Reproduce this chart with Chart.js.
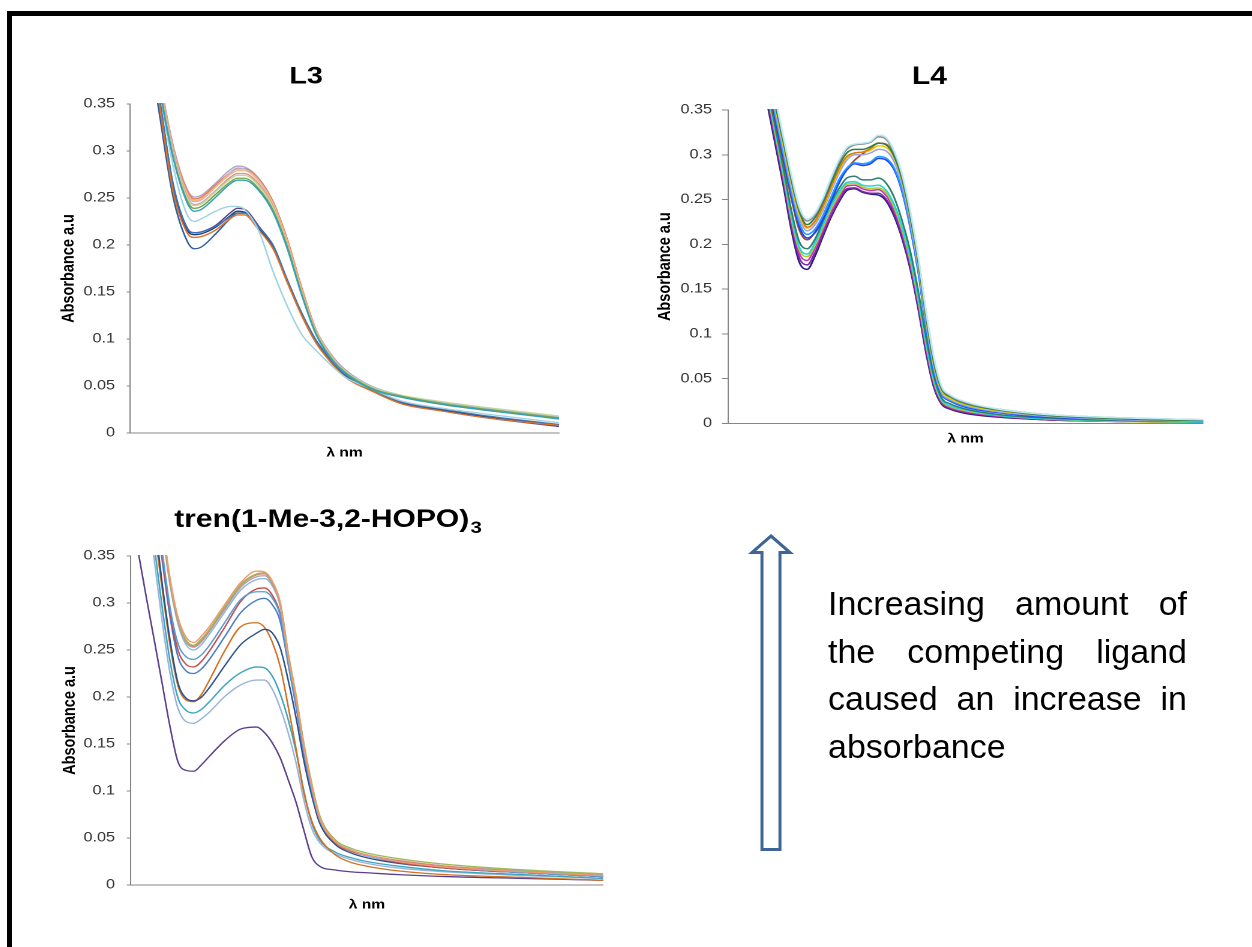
<!DOCTYPE html>
<html>
<head>
<meta charset="utf-8">
<script src="https://cdn.jsdelivr.net/npm/chart.js@4.4.1/dist/chart.umd.min.js"></script>
<style>
  body { margin: 0; width: 1252px; height: 947px; background: #fff; position: relative; overflow: hidden; }
  .edge { position: absolute; background: #000; z-index: 5; }
  /* the three plots are drawn narrow and stretched sideways */
  .panel { position: absolute; transform: scaleX(1.2); transform-origin: 0 0; }
  .note { position: absolute; left: 828px; top: 580px; width: 359px; color: #000;
          font: 34px/47.6px "Liberation Sans", Arial, sans-serif; }
  .note div { white-space: nowrap; text-align: justify; text-align-last: justify; }
  .note div.last { text-align-last: left; }
  svg { position: absolute; left: 0; top: 0; }
</style>
</head>
<body>
<div class="edge" style="left:7px; top:11px; width:1245px; height:5px;"></div>
<div class="edge" style="left:7px; top:11px; width:5px; height:936px;"></div>

<div class="panel" style="left:10px; top:40px; width:475px; height:440px;"><canvas id="l3Chart"></canvas></div>
<div class="panel" style="left:610px; top:40px; width:510px; height:430px;"><canvas id="l4Chart"></canvas></div>
<div class="panel" style="left:10px; top:490px; width:510px; height:450px;"><canvas id="trenChart"></canvas></div>

<svg width="1252" height="947">
  <polygon points="771,536 790,552.5 780,552.5 780,849.5 762,849.5 762,552.5 752,552.5"
           fill="#fff" stroke="#3e6597" stroke-width="3" stroke-linejoin="miter"/>
</svg>

<div class="note">
  <div>Increasing amount of</div>
  <div>the competing ligand</div>
  <div>caused an increase in</div>
  <div class="last">absorbance</div>
</div>

<script>
// absorbance axis, shared by all three panels
const absTicks = [0, 0.05, 0.1, 0.15, 0.2, 0.25, 0.3, 0.35];

// ---- L3 ----
const l3Nm = [260, 270, 280, 290, 295, 300, 310, 320, 325, 330, 340, 350, 360, 370, 380, 390, 400, 420, 440, 470, 500, 550];
const l3Lavender = [0.50, 0.387, 0.307, 0.259, 0.251, 0.253, 0.266, 0.280, 0.284, 0.283, 0.271, 0.246, 0.205, 0.154, 0.110, 0.085, 0.068, 0.049, 0.040, 0.032, 0.026, 0.017];
const l3Coral = [0.50, 0.386, 0.305, 0.257, 0.249, 0.251, 0.264, 0.277, 0.281, 0.281, 0.270, 0.246, 0.206, 0.155, 0.110, 0.084, 0.067, 0.048, 0.039, 0.031, 0.025, 0.016];
const l3Peach = [0.495, 0.383, 0.303, 0.255, 0.247, 0.249, 0.262, 0.275, 0.279, 0.279, 0.268, 0.244, 0.204, 0.153, 0.109, 0.083, 0.066, 0.048, 0.039, 0.031, 0.025, 0.016];
const l3Sky = [0.50, 0.385, 0.304, 0.254, 0.246, 0.248, 0.262, 0.277, 0.282, 0.281, 0.269, 0.244, 0.203, 0.152, 0.109, 0.084, 0.067, 0.049, 0.040, 0.032, 0.026, 0.017];
const l3Rose = [0.49, 0.38, 0.30, 0.251, 0.243, 0.245, 0.258, 0.272, 0.276, 0.276, 0.265, 0.241, 0.201, 0.151, 0.107, 0.082, 0.066, 0.047, 0.038, 0.030, 0.024, 0.015];
const l3Lime = [0.49, 0.378, 0.298, 0.250, 0.242, 0.244, 0.257, 0.270, 0.274, 0.274, 0.263, 0.240, 0.200, 0.150, 0.107, 0.082, 0.066, 0.048, 0.040, 0.033, 0.027, 0.018];
const l3Green = [0.485, 0.375, 0.295, 0.247, 0.239, 0.241, 0.254, 0.267, 0.271, 0.271, 0.260, 0.237, 0.198, 0.148, 0.106, 0.081, 0.065, 0.047, 0.039, 0.031, 0.025, 0.016];
const l3Teal = [0.485, 0.374, 0.294, 0.245, 0.236, 0.238, 0.251, 0.265, 0.269, 0.269, 0.258, 0.235, 0.196, 0.147, 0.105, 0.080, 0.064, 0.046, 0.038, 0.030, 0.024, 0.015];
const l3Ice = [0.47, 0.372, 0.285, 0.232, 0.225, 0.228, 0.236, 0.241, 0.241, 0.238, 0.215, 0.172, 0.135, 0.105, 0.088, 0.073, 0.060, 0.046, 0.034, 0.026, 0.020, 0.011];
const l3Navy = [0.45, 0.36, 0.262, 0.216, 0.211, 0.212, 0.219, 0.231, 0.236, 0.235, 0.218, 0.198, 0.161, 0.126, 0.097, 0.077, 0.061, 0.045, 0.032, 0.024, 0.017, 0.008];
const l3Purple = [0.455, 0.362, 0.265, 0.218, 0.213, 0.214, 0.221, 0.234, 0.239, 0.238, 0.220, 0.199, 0.162, 0.127, 0.098, 0.077, 0.061, 0.045, 0.032, 0.023, 0.016, 0.007];
const l3Orange = [0.445, 0.355, 0.258, 0.213, 0.208, 0.209, 0.216, 0.228, 0.232, 0.232, 0.216, 0.196, 0.160, 0.125, 0.096, 0.076, 0.060, 0.044, 0.031, 0.023, 0.016, 0.008];
const l3Blue = [0.452, 0.362, 0.266, 0.218, 0.213, 0.214, 0.220, 0.230, 0.234, 0.234, 0.219, 0.200, 0.163, 0.128, 0.099, 0.079, 0.063, 0.046, 0.033, 0.025, 0.018, 0.009];
const l3Cobalt = [0.44, 0.345, 0.252, 0.204, 0.196, 0.198, 0.212, 0.228, 0.234, 0.234, 0.218, 0.199, 0.162, 0.127, 0.098, 0.078, 0.062, 0.045, 0.032, 0.024, 0.017, 0.008];

// ---- L4 ----
const l4Nm = [260, 270, 275, 280, 285, 290, 295, 300, 305, 310, 315, 320, 325, 330, 335, 340, 345, 350, 355, 360, 365, 370, 375, 380, 385, 390, 400, 420, 450, 500, 550];
const l4Navy = [0.505, 0.40, 0.355, 0.31, 0.265, 0.216, 0.180, 0.172, 0.187, 0.209, 0.230, 0.247, 0.260, 0.262, 0.258, 0.256, 0.255, 0.248, 0.231, 0.206, 0.173, 0.129, 0.079, 0.040, 0.021, 0.016, 0.011, 0.007, 0.004, 0.002, 0.001];
const l4Purple = [0.51, 0.405, 0.36, 0.315, 0.27, 0.221, 0.185, 0.177, 0.191, 0.212, 0.232, 0.249, 0.262, 0.263, 0.259, 0.257, 0.257, 0.250, 0.234, 0.209, 0.176, 0.132, 0.082, 0.042, 0.022, 0.017, 0.012, 0.008, 0.004, 0.002, 0.001];
const l4Magenta = [0.515, 0.41, 0.365, 0.32, 0.274, 0.226, 0.190, 0.182, 0.196, 0.216, 0.236, 0.252, 0.265, 0.266, 0.262, 0.260, 0.261, 0.254, 0.238, 0.213, 0.180, 0.136, 0.086, 0.045, 0.024, 0.018, 0.013, 0.008, 0.005, 0.002, 0.001];
const l4Chartreuse = [0.518, 0.412, 0.368, 0.322, 0.277, 0.229, 0.194, 0.186, 0.199, 0.219, 0.239, 0.255, 0.267, 0.268, 0.264, 0.262, 0.263, 0.257, 0.241, 0.216, 0.183, 0.139, 0.089, 0.047, 0.025, 0.019, 0.014, 0.009, 0.005, 0.002, 0.001];
const l4Cyan = [0.52, 0.415, 0.37, 0.325, 0.28, 0.232, 0.197, 0.189, 0.202, 0.222, 0.242, 0.258, 0.269, 0.270, 0.266, 0.265, 0.266, 0.260, 0.244, 0.219, 0.186, 0.142, 0.091, 0.049, 0.026, 0.020, 0.015, 0.009, 0.005, 0.003, 0.001];
const l4Pine = [0.525, 0.42, 0.375, 0.33, 0.285, 0.238, 0.203, 0.195, 0.206, 0.226, 0.246, 0.262, 0.274, 0.276, 0.272, 0.272, 0.274, 0.268, 0.252, 0.226, 0.193, 0.149, 0.097, 0.053, 0.028, 0.022, 0.016, 0.010, 0.006, 0.003, 0.002];
const l4Brown = [0.53, 0.425, 0.38, 0.335, 0.293, 0.251, 0.216, 0.205, 0.214, 0.232, 0.252, 0.270, 0.284, 0.294, 0.301, 0.307, 0.313, 0.311, 0.298, 0.272, 0.232, 0.182, 0.120, 0.067, 0.037, 0.029, 0.021, 0.015, 0.009, 0.005, 0.003];
const l4Blue = [0.535, 0.428, 0.384, 0.339, 0.297, 0.255, 0.220, 0.207, 0.213, 0.228, 0.248, 0.268, 0.283, 0.290, 0.288, 0.290, 0.296, 0.294, 0.283, 0.258, 0.219, 0.170, 0.108, 0.058, 0.032, 0.025, 0.018, 0.012, 0.007, 0.004, 0.002];
const l4Azure = [0.54, 0.432, 0.388, 0.343, 0.301, 0.259, 0.224, 0.211, 0.217, 0.232, 0.252, 0.272, 0.285, 0.291, 0.290, 0.292, 0.298, 0.296, 0.285, 0.260, 0.221, 0.172, 0.110, 0.060, 0.033, 0.026, 0.019, 0.013, 0.008, 0.004, 0.002];
const l4Lavender = [0.545, 0.437, 0.393, 0.348, 0.306, 0.264, 0.229, 0.215, 0.222, 0.238, 0.259, 0.279, 0.294, 0.300, 0.300, 0.302, 0.306, 0.304, 0.292, 0.266, 0.226, 0.176, 0.114, 0.063, 0.034, 0.027, 0.020, 0.013, 0.008, 0.004, 0.002];
const l4Yellow = [0.55, 0.44, 0.397, 0.352, 0.31, 0.268, 0.233, 0.218, 0.225, 0.241, 0.262, 0.282, 0.297, 0.302, 0.303, 0.305, 0.310, 0.308, 0.296, 0.270, 0.230, 0.180, 0.118, 0.066, 0.036, 0.028, 0.021, 0.014, 0.009, 0.005, 0.003];
const l4Orange = [0.555, 0.448, 0.403, 0.358, 0.316, 0.274, 0.238, 0.219, 0.226, 0.243, 0.264, 0.284, 0.298, 0.302, 0.303, 0.307, 0.313, 0.312, 0.300, 0.275, 0.236, 0.186, 0.125, 0.072, 0.040, 0.031, 0.023, 0.016, 0.010, 0.005, 0.003];
const l4Green = [0.55, 0.445, 0.40, 0.355, 0.314, 0.272, 0.237, 0.222, 0.230, 0.247, 0.268, 0.288, 0.302, 0.306, 0.306, 0.309, 0.313, 0.311, 0.298, 0.272, 0.232, 0.182, 0.120, 0.068, 0.038, 0.030, 0.022, 0.015, 0.009, 0.005, 0.003];
const l4Grey = [0.56, 0.45, 0.405, 0.36, 0.318, 0.276, 0.240, 0.226, 0.233, 0.250, 0.272, 0.292, 0.306, 0.311, 0.312, 0.314, 0.320, 0.317, 0.302, 0.276, 0.236, 0.186, 0.124, 0.072, 0.040, 0.031, 0.023, 0.016, 0.010, 0.006, 0.004];
const l4Frost = [0.56, 0.452, 0.407, 0.362, 0.32, 0.278, 0.242, 0.228, 0.235, 0.252, 0.274, 0.294, 0.308, 0.312, 0.313, 0.315, 0.322, 0.319, 0.304, 0.278, 0.238, 0.188, 0.126, 0.074, 0.041, 0.032, 0.024, 0.016, 0.010, 0.006, 0.004];

// ---- tren(1-Me-3,2-HOPO)3 ----
const trenNm = [250, 255, 260, 265, 270, 275, 280, 285, 290, 295, 300, 310, 320, 330, 335, 340, 345, 350, 355, 360, 365, 370, 380, 390, 400, 420, 450, 500, 550];
const trenPurple = [0.40, 0.352, 0.305, 0.260, 0.214, 0.168, 0.131, 0.122, 0.121, 0.128, 0.137, 0.154, 0.166, 0.168, 0.162, 0.151, 0.135, 0.112, 0.088, 0.058, 0.030, 0.020, 0.016, 0.014, 0.013, 0.011, 0.009, 0.007, 0.005];
const trenMist = [0.60, 0.50, 0.41, 0.345, 0.28, 0.225, 0.188, 0.174, 0.172, 0.177, 0.184, 0.201, 0.213, 0.218, 0.218, 0.208, 0.188, 0.162, 0.130, 0.090, 0.060, 0.045, 0.033, 0.027, 0.023, 0.018, 0.014, 0.010, 0.007];
const trenTeal = [0.62, 0.52, 0.43, 0.36, 0.295, 0.238, 0.199, 0.186, 0.183, 0.187, 0.195, 0.213, 0.226, 0.232, 0.231, 0.222, 0.203, 0.176, 0.142, 0.100, 0.066, 0.048, 0.035, 0.029, 0.025, 0.020, 0.015, 0.011, 0.007];
const trenOrange = [0.66, 0.56, 0.46, 0.38, 0.315, 0.255, 0.212, 0.197, 0.195, 0.203, 0.218, 0.250, 0.275, 0.279, 0.274, 0.258, 0.232, 0.190, 0.145, 0.098, 0.068, 0.050, 0.032, 0.024, 0.020, 0.015, 0.011, 0.008, 0.005];
const trenNavy = [0.67, 0.57, 0.47, 0.39, 0.32, 0.26, 0.215, 0.199, 0.196, 0.200, 0.210, 0.234, 0.256, 0.268, 0.272, 0.268, 0.252, 0.218, 0.178, 0.132, 0.095, 0.066, 0.043, 0.034, 0.029, 0.023, 0.018, 0.013, 0.009];
const trenBlue = [0.69, 0.59, 0.49, 0.41, 0.345, 0.285, 0.243, 0.228, 0.225, 0.230, 0.240, 0.265, 0.290, 0.303, 0.305, 0.298, 0.280, 0.235, 0.190, 0.140, 0.100, 0.069, 0.045, 0.036, 0.031, 0.024, 0.018, 0.013, 0.009];
const trenRed = [0.69, 0.59, 0.495, 0.415, 0.35, 0.29, 0.250, 0.235, 0.232, 0.238, 0.249, 0.275, 0.302, 0.315, 0.316, 0.308, 0.288, 0.240, 0.195, 0.144, 0.103, 0.070, 0.045, 0.036, 0.031, 0.024, 0.018, 0.013, 0.009];
const trenSky = [0.70, 0.595, 0.50, 0.42, 0.355, 0.295, 0.257, 0.243, 0.240, 0.245, 0.255, 0.280, 0.304, 0.312, 0.312, 0.305, 0.286, 0.238, 0.194, 0.143, 0.102, 0.070, 0.046, 0.037, 0.031, 0.025, 0.019, 0.013, 0.009];
const trenPale = [0.705, 0.59, 0.51, 0.44, 0.377, 0.319, 0.278, 0.256, 0.250, 0.256, 0.267, 0.291, 0.314, 0.325, 0.326, 0.318, 0.296, 0.243, 0.198, 0.146, 0.104, 0.071, 0.046, 0.037, 0.031, 0.025, 0.019, 0.014, 0.010];
const trenGrey = [0.71, 0.595, 0.515, 0.445, 0.38, 0.322, 0.281, 0.259, 0.253, 0.259, 0.270, 0.294, 0.317, 0.328, 0.329, 0.320, 0.298, 0.244, 0.199, 0.147, 0.105, 0.071, 0.046, 0.037, 0.032, 0.026, 0.020, 0.015, 0.011];
const trenRose = [0.712, 0.597, 0.517, 0.447, 0.382, 0.323, 0.282, 0.260, 0.254, 0.260, 0.271, 0.296, 0.319, 0.330, 0.331, 0.321, 0.299, 0.246, 0.200, 0.149, 0.106, 0.072, 0.046, 0.037, 0.032, 0.026, 0.020, 0.014, 0.010];
const trenGreen = [0.715, 0.598, 0.518, 0.448, 0.383, 0.324, 0.283, 0.261, 0.255, 0.262, 0.272, 0.297, 0.320, 0.331, 0.332, 0.322, 0.300, 0.247, 0.202, 0.150, 0.108, 0.074, 0.048, 0.039, 0.034, 0.028, 0.022, 0.016, 0.012];
const trenSalmon = [0.72, 0.60, 0.52, 0.45, 0.385, 0.326, 0.285, 0.264, 0.258, 0.265, 0.275, 0.299, 0.322, 0.334, 0.333, 0.323, 0.300, 0.245, 0.200, 0.148, 0.106, 0.072, 0.046, 0.037, 0.032, 0.025, 0.019, 0.014, 0.010];

const FONT = '"Liberation Sans", Arial, sans-serif';
Chart.defaults.font.family = FONT;

// panel heading, with an optional subscript after the main text
const panelTitle = {
  id: 'panelTitle',
  afterDraw(chart, args, opts) {
    const ctx = chart.ctx;
    ctx.save();
    ctx.fillStyle = '#000';
    ctx.textAlign = 'left';
    ctx.textBaseline = 'alphabetic';
    ctx.font = 'bold ' + opts.size + 'px ' + FONT;
    const mainW = ctx.measureText(opts.text).width;
    let subW = 0;
    if (opts.sub) {
      ctx.font = 'bold ' + Math.round(opts.size * 0.66) + 'px ' + FONT;
      subW = ctx.measureText(opts.sub).width + 1;
    }
    const x0 = opts.x - (mainW + subW) / 2;
    ctx.font = 'bold ' + opts.size + 'px ' + FONT;
    ctx.fillText(opts.text, x0, opts.y);
    if (opts.sub) {
      ctx.font = 'bold ' + Math.round(opts.size * 0.66) + 'px ' + FONT;
      ctx.fillText(opts.sub, x0 + mainW + 1, opts.y + 6);
    }
    ctx.restore();
  }
};

function spectrum(nm, values, color, width) {
  return {
    data: values.map((v, i) => ({ x: nm[i], y: v })),
    borderColor: color,
    borderWidth: width,
    pointRadius: 0,
    cubicInterpolationMode: 'monotone',
    clip: 1
  };
}

function drawPanel(id, p) {
  new Chart(document.getElementById(id), {
    type: 'line',
    data: { datasets: p.series.map(s => spectrum(p.nm, s[0], s[1], p.lineWidth)) },
    plugins: [panelTitle],
    options: {
      responsive: true,
      maintainAspectRatio: false,
      devicePixelRatio: 2,
      animation: false,
      events: [],
      layout: { padding: { left: 0, top: p.padTop, right: p.padRight, bottom: p.padBottom } },
      plugins: {
        legend: { display: false },
        tooltip: { enabled: false },
        panelTitle: p.title
      },
      scales: {
        x: {
          type: 'linear', min: 250, max: 550,
          ticks: { display: false },
          grid: { display: false },
          border: { display: true, color: '#868686', width: 1 },
          afterFit: s => { s.height = 40; },
          title: {
            display: true, text: 'λ nm', color: '#000',
            font: { size: 13, weight: 'bold' },
            padding: { top: 0, bottom: p.xTitlePad }
          }
        },
        y: {
          min: 0, max: 0.35,
          afterBuildTicks: s => { s.ticks = absTicks.map(v => ({ value: v })); },
          afterFit: s => { s.width = p.axisWidth; },
          ticks: {
            padding: p.tickPad, color: '#333',
            font: { size: 13.5 },
            callback: v => String(+v.toFixed(2))
          },
          grid: { drawOnChartArea: false, drawTicks: true, tickLength: p.tickLen, color: '#868686' },
          border: { display: true, color: '#868686', width: 1 },
          title: {
            display: true, text: 'Absorbance a.u', color: '#000',
            font: { size: 14.5, weight: 'bold' },
            padding: { top: p.yTitlePad, bottom: 0 }
          }
        }
      }
    }
  });
}

drawPanel('l3Chart', {
  nm: l3Nm, lineWidth: 1.35,
  series: [
    [l3Teal, '#31a2b8'], [l3Green, '#77a34f'], [l3Lime, '#c3d69b'], [l3Rose, '#d99694'],
    [l3Peach, '#f9b384'], [l3Sky, '#a6bddb'], [l3Coral, '#e8794a'], [l3Lavender, '#b3a2c7'],
    [l3Ice, '#9fd3e3'], [l3Orange, '#d9722a'], [l3Blue, '#3d72b4'], [l3Purple, '#5c4587'],
    [l3Navy, '#1f3d70'], [l3Cobalt, '#2f5d9e']
  ],
  title: { text: 'L3', size: 24, x: 246.7, y: 43.5 },
  padTop: 64, padRight: 17.5, padBottom: 7,
  axisWidth: 100, tickLen: 2.75, tickPad: 9.75, yTitlePad: 40.5, xTitlePad: 12.2
});

drawPanel('l4Chart', {
  nm: l4Nm, lineWidth: 1.5,
  series: [
    [l4Frost, '#b8ecf5'], [l4Grey, '#8c8c8c'], [l4Green, '#2e7d4f'], [l4Orange, '#e07b00'],
    [l4Yellow, '#e6cf00'], [l4Lavender, '#9f9fef'], [l4Azure, '#1e9bff'], [l4Blue, '#2040ff'],
    [l4Brown, '#a0461e'], [l4Pine, '#2f7f6f'], [l4Cyan, '#20d8d8'], [l4Chartreuse, '#b0d020'],
    [l4Magenta, '#d030c8'], [l4Purple, '#7a2c9a'], [l4Navy, '#2a1d8a']
  ],
  title: { text: 'L4', size: 25, x: 266.25, y: 44 },
  padTop: 70, padRight: 15.8, padBottom: 6.7,
  axisWidth: 98.33, tickLen: 5, tickPad: 8.3, yTitlePad: 37.1, xTitlePad: 16.5
});

drawPanel('trenChart', {
  nm: trenNm, lineWidth: 1.3,
  series: [
    [trenSalmon, '#f19a6b'], [trenGreen, '#9bbb59'], [trenRose, '#e0807a'], [trenGrey, '#a5a5a5'],
    [trenPale, '#8fb4e3'], [trenSky, '#5b9bd5'], [trenRed, '#c0504d'], [trenBlue, '#4a7bc4'],
    [trenNavy, '#2b4f8c'], [trenOrange, '#d1701f'], [trenTeal, '#3aa5bf'], [trenMist, '#9bb3d9'],
    [trenPurple, '#5b3f8c']
  ],
  title: { text: 'tren(1-Me-3,2-HOPO)', sub: '3', size: 25, x: 265, y: 37 },
  padTop: 66, padRight: 15.8, padBottom: 15,
  axisWidth: 100.6, tickLen: 3.3, tickPad: 9.75, yTitlePad: 41.3, xTitlePad: 12.2
});
</script>
</body>
</html>
